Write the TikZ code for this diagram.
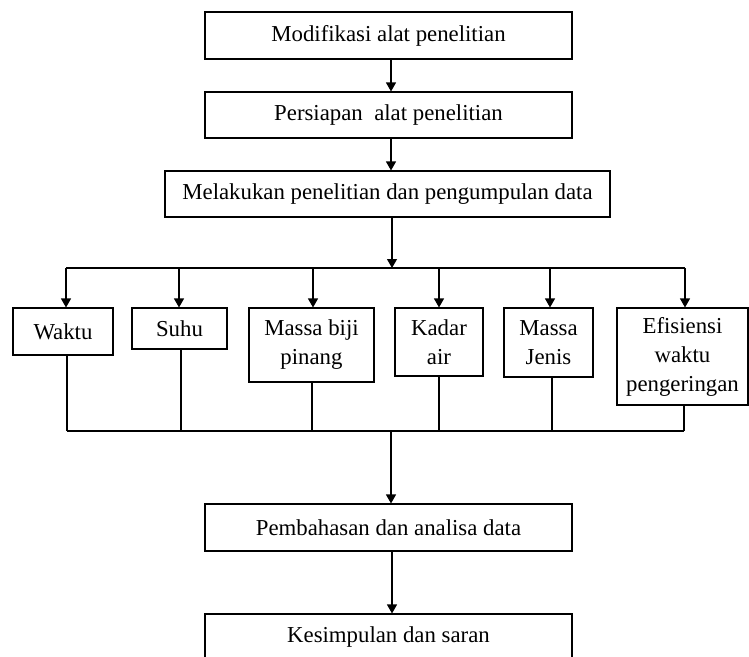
\documentclass[tikz,border=0pt]{standalone}
\usepackage{fontspec}
\setmainfont{Liberation Serif}
\usetikzlibrary{arrows.meta,calc}
\begin{document}
\begin{tikzpicture}[x=1pt,y=-1pt,
  box/.style={draw,line width=1.1pt,inner sep=0pt,align=center,
    font=\fontsize{22.8}{29}\selectfont},
  arr/.style={line width=1.1pt,-{Triangle[length=9pt,width=10pt]}},
  ln/.style={line width=1.1pt}]
\useasboundingbox (0,0) rectangle (749,656);
% main column
\node[box,minimum width=367pt,minimum height=47pt] (b1) at (388.5,35.5) {Modifikasi alat penelitian};
\node[box,minimum width=367pt,minimum height=46pt] (b2) at (388.5,115) {Persiapan\ \ alat penelitian};
\node[box,minimum width=445pt,minimum height=46pt] (b3) at (387.5,194) {Melakukan penelitian dan pengumpulan data};
% parameter boxes
\node[box,minimum width=100pt,minimum height=47pt] (waktu) at (63,331.5) {Waktu};
\node[box,minimum width=95pt,minimum height=41pt] (suhu) at (179.5,328.5) {Suhu};
\node[box,minimum width=125pt,minimum height=74pt] (massa) at (311.5,345) {Massa biji\\pinang};
\node[box,minimum width=88pt,minimum height=68pt] (kadar) at (439,342) {Kadar\\air};
\node[box,minimum width=89pt,minimum height=69pt] (jenis) at (548.5,342.5) {Massa\\Jenis};
\node[box,minimum width=131pt,minimum height=97pt] (efis) at (682.5,356.5) {Efisiensi\\waktu\\pengeringan};
% lower column
\node[box,minimum width=367pt,minimum height=47pt] (pemb) at (388.5,527.5) {Pembahasan dan analisa data};
\node[box,minimum width=367pt,minimum height=47pt] (kesi) at (388.5,637.5) {Kesimpulan dan saran};
% coordinates
\coordinate (c1) at (391,59);
\coordinate (c2) at (391,138);
\coordinate (c3) at (392,217);
\coordinate (top) at (392,268);
\coordinate (tl) at (66,268);
\coordinate (tr) at (685,268);
\coordinate (t1) at (66,268);
\coordinate (t2) at (179,268);
\coordinate (t3) at (313,268);
\coordinate (t4) at (439,268);
\coordinate (t5) at (550,268);
\coordinate (t6) at (685,268);
\coordinate (u1) at (67,431);
\coordinate (u2) at (181,431);
\coordinate (u3) at (312,431);
\coordinate (u4) at (439,431);
\coordinate (u5) at (552,431);
\coordinate (u6) at (684,431);
\coordinate (bot) at (391,431);
\coordinate (c5) at (392,551);
% connectors
\draw[arr] (c1) -- (c1 |- b2.north);
\draw[arr] (c2) -- (c2 |- b3.north);
\draw[arr] (c3) -- (top);
\draw[ln] (tl) -- (tr);
\foreach \t/\n in {t1/waktu,t2/suhu,t3/massa,t4/kadar,t5/jenis,t6/efis}
  \draw[arr] (\t) -- (\t |- \n.north);
\foreach \u/\n in {u1/waktu,u2/suhu,u3/massa,u4/kadar,u5/jenis,u6/efis}
  \draw[ln] (\u |- \n.south) -- (\u);
\draw[ln] (u1) -- (u6);
\draw[arr] (bot) -- (bot |- pemb.north);
\draw[arr] (c5) -- (c5 |- kesi.north);
\end{tikzpicture}
\end{document}
